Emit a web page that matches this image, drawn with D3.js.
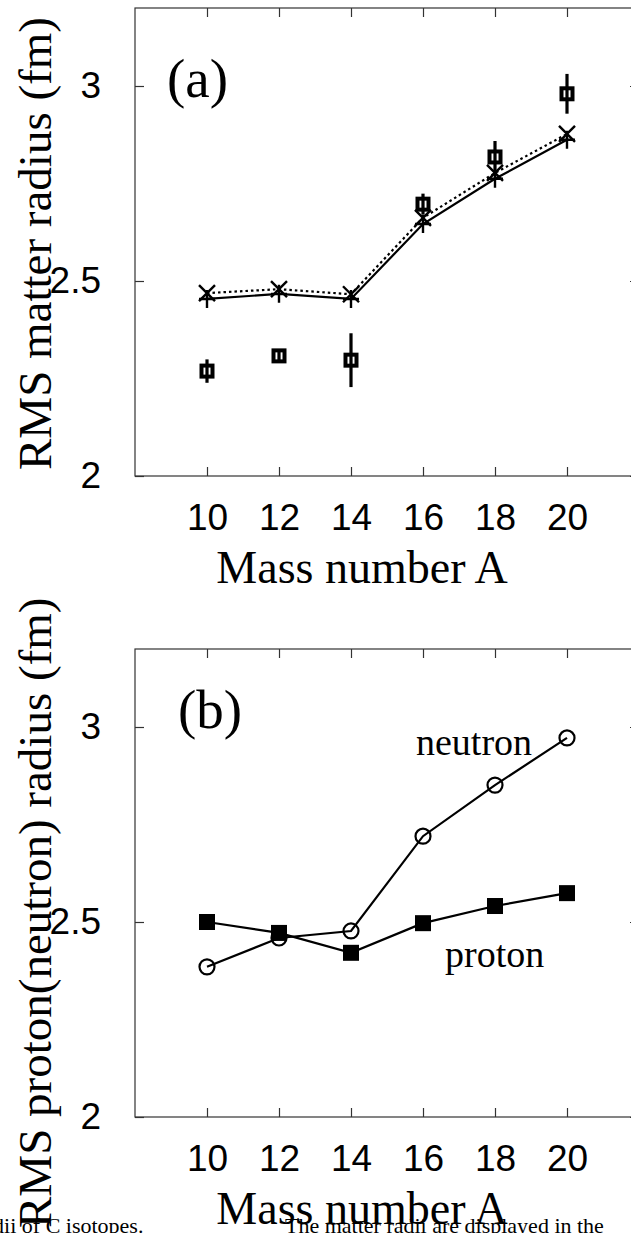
<!DOCTYPE html>
<html>
<head>
<meta charset="utf-8">
<script src="https://cdn.jsdelivr.net/npm/d3@7"></script>
<style>
  html, body { margin: 0; padding: 0; background: #fff; }
  svg { display: block; }
</style>
</head>
<body>
<div id="chart"></div>
<script>
// mass numbers of the C isotopes
const massNumbers = [10, 12, 14, 16, 18, 20];
const xTickValues = [10, 12, 14, 16, 18, 20];
const yTickValues = [2, 2.5, 3];

// panel (a): matter radii
const matterCalcDotted = [2.469, 2.479, 2.466, 2.662, 2.777, 2.877];   // x markers, dotted line
const matterCalcSolid = [2.454, 2.467, 2.454, 2.646, 2.762, 2.862];    // + markers, solid line
const matterExp = [2.269, 2.308, 2.297, 2.697, 2.818, 2.98];           // open squares
const matterExpErr = [0.03, 0.015, 0.069, 0.027, 0.041, 0.051];

// panel (b): proton / neutron radii
const protonRadius = [2.5, 2.472, 2.421, 2.497, 2.541, 2.574];
const neutronRadius = [2.385, 2.459, 2.477, 2.72, 2.851, 2.972];

const W = 631, H = 1233;
const serif = "'Liberation Serif', 'Times New Roman', serif";
const sans = "'Liberation Sans', Arial, sans-serif";

const svg = d3.select("#chart").append("svg")
  .attr("width", W).attr("height", H);
svg.append("rect").attr("width", W).attr("height", H).attr("fill", "#fff");

const x = d3.scaleLinear().domain([8, 22]).range([135, 639]);

function panel(top, bottom, yTitle, yTitleBottom) {
  const y = d3.scaleLinear().domain([2, 3.2]).range([bottom, top]);
  const g = svg.append("g");

  // frame
  g.append("rect")
    .attr("x", x(8)).attr("y", y(3.2))
    .attr("width", x(22) - x(8)).attr("height", y(2) - y(3.2))
    .attr("fill", "none").attr("stroke", "#333").attr("stroke-width", 1.2);

  const bottomAxis = g.append("g")
    .attr("transform", `translate(0,${y(2)})`)
    .call(d3.axisBottom(x).tickValues(xTickValues).tickSize(-9).tickPadding(28).tickFormat(d3.format("d")));
  const topAxis = g.append("g")
    .attr("transform", `translate(0,${y(3.2)})`)
    .call(d3.axisTop(x).tickValues(xTickValues).tickSize(-9).tickFormat(""));
  const leftAxis = g.append("g")
    .attr("transform", `translate(${x(8)},0)`)
    .call(d3.axisLeft(y).tickValues(yTickValues).tickSize(-9).tickPadding(34).tickFormat(d => d === 2.5 ? "2.5" : d3.format("d")(d)));
  const rightAxis = g.append("g")
    .attr("transform", `translate(${x(22)},0)`)
    .call(d3.axisRight(y).tickValues(yTickValues).tickSize(-9).tickFormat(""));

  [bottomAxis, topAxis, leftAxis, rightAxis].forEach(a => {
    a.select(".domain").remove();
    a.selectAll(".tick line").attr("stroke", "#333").attr("stroke-width", 1.2);
    a.selectAll("text")
      .attr("fill", "#000")
      .style("font-family", sans)
      .style("font-size", "37px");
  });

  // x axis title
  g.append("text")
    .attr("x", 362).attr("y", y(2) + 107)
    .attr("text-anchor", "middle")
    .style("font-family", serif).style("font-size", "46px")
    .text("Mass number A");

  // y axis title
  g.append("text")
    .attr("transform", `translate(51,${yTitleBottom}) rotate(-90)`)
    .attr("text-anchor", "start")
    .style("font-family", serif).style("font-size", "47px")
    .text(yTitle);

  return { g, y };
}

const line = (y, vals) => d3.line().x((d, i) => x(massNumbers[i])).y(d => y(d))(vals);

// ---------- panel (a)
const pa = panel(8, 476, "RMS matter radius (fm)", 470);

pa.g.append("path")
  .attr("d", line(pa.y, matterCalcDotted))
  .attr("fill", "none").attr("stroke", "#000").attr("stroke-width", 2.2)
  .attr("stroke-dasharray", "2.5,3");
pa.g.append("path")
  .attr("d", line(pa.y, matterCalcSolid))
  .attr("fill", "none").attr("stroke", "#000").attr("stroke-width", 2.2);

pa.g.selectAll(".cross").data(matterCalcDotted).join("path")
  .attr("transform", (d, i) => `translate(${x(massNumbers[i])},${pa.y(d)})`)
  .attr("d", "M-8,-8L8,8M-8,8L8,-8")
  .attr("stroke", "#000").attr("stroke-width", 2.4).attr("fill", "none");
pa.g.selectAll(".plus").data(matterCalcSolid).join("path")
  .attr("transform", (d, i) => `translate(${x(massNumbers[i])},${pa.y(d)})`)
  .attr("d", "M-8,0L8,0M0,-9L0,9")
  .attr("stroke", "#000").attr("stroke-width", 2.4).attr("fill", "none");

// experiment with error bars
pa.g.selectAll(".err").data(matterExp).join("line")
  .attr("x1", (d, i) => x(massNumbers[i])).attr("x2", (d, i) => x(massNumbers[i]))
  .attr("y1", (d, i) => pa.y(d - matterExpErr[i]))
  .attr("y2", (d, i) => pa.y(d + matterExpErr[i]))
  .attr("stroke", "#000").attr("stroke-width", 3.2);
pa.g.selectAll(".sq").data(matterExp).join("rect")
  .attr("x", (d, i) => x(massNumbers[i]) - 5.5)
  .attr("y", d => pa.y(d) - 5.5)
  .attr("width", 11).attr("height", 11)
  .attr("fill", "none").attr("stroke", "#000").attr("stroke-width", 4);

pa.g.append("text")
  .attr("x", 167).attr("y", 97)
  .style("font-family", serif).style("font-size", "55px")
  .text("(a)");

// ---------- panel (b)
const pb = panel(649, 1117, "RMS proton(neutron) radius (fm)", 1228);

pb.g.append("path")
  .attr("d", line(pb.y, neutronRadius))
  .attr("fill", "none").attr("stroke", "#000").attr("stroke-width", 2.2);
pb.g.append("path")
  .attr("d", line(pb.y, protonRadius))
  .attr("fill", "none").attr("stroke", "#000").attr("stroke-width", 2.2);

pb.g.selectAll(".circ").data(neutronRadius).join("circle")
  .attr("cx", (d, i) => x(massNumbers[i]))
  .attr("cy", d => pb.y(d))
  .attr("r", 7.5)
  .attr("fill", "none").attr("stroke", "#000").attr("stroke-width", 2.2);
pb.g.selectAll(".fsq").data(protonRadius).join("rect")
  .attr("x", (d, i) => x(massNumbers[i]) - 8)
  .attr("y", d => pb.y(d) - 8)
  .attr("width", 16).attr("height", 16)
  .attr("fill", "#000");

pb.g.append("text")
  .attr("x", 178).attr("y", 728)
  .style("font-family", serif).style("font-size", "55px")
  .text("(b)");
pb.g.append("text")
  .attr("x", 416).attr("y", 755)
  .style("font-family", serif).style("font-size", "38px")
  .text("neutron");
pb.g.append("text")
  .attr("x", 445).attr("y", 967)
  .style("font-family", serif).style("font-size", "38px")
  .text("proton");

// caption fragment at the bottom edge
svg.append("text")
  .attr("x", -24).attr("y", 1233)
  .style("font-family", serif).style("font-size", "22px")
  .text("radii of C isotopes.");
svg.append("text")
  .attr("x", 285).attr("y", 1233)
  .style("font-family", serif).style("font-size", "22px")
  .text("The matter radii are displayed in the");
</script>
</body>
</html>
